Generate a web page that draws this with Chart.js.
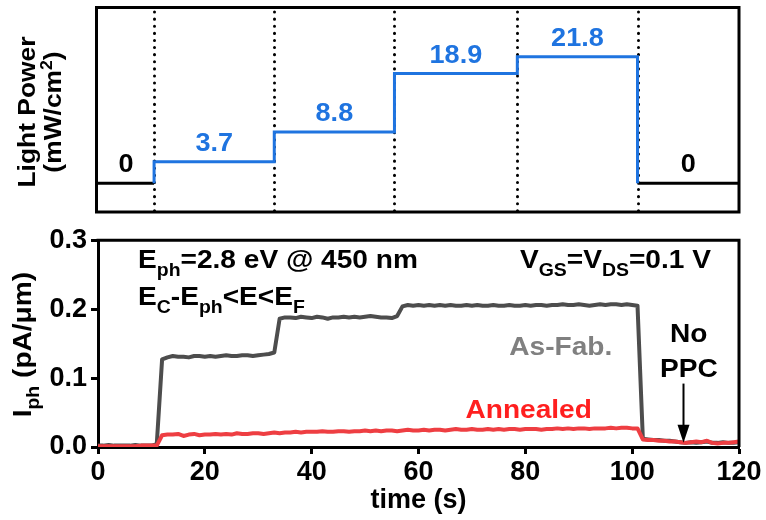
<!DOCTYPE html>
<html><head><meta charset="utf-8">
<script src="https://cdn.jsdelivr.net/npm/chart.js@4.4.1/dist/chart.umd.min.js"></script>
<style>
html,body{margin:0;padding:0;background:#fff;width:766px;height:520px;overflow:hidden}
#top{position:absolute;left:0;top:0}
#bot{position:absolute;left:0;top:220px}
</style></head><body>
<canvas id="top" width="766" height="220"></canvas>
<canvas id="bot" width="766" height="300"></canvas>
<script>
// ---- data ----
const time = [0,1,2,3,4,5,6,7,8,9,10,11,12,13,14,15,16,17,18,19,20,21,22,23,24,25,26,27,28,29,30,31,32,33,34,35,36,37,38,39,40,41,42,43,44,45,46,47,48,49,50,51,52,53,54,55,56,57,58,59,60,61,62,63,64,65,66,67,68,69,70,71,72,73,74,75,76,77,78,79,80,81,82,83,84,85,86,87,88,89,90,91,92,93,94,95,96,97,98,99,100,101,102,103,104,105,106,107,108,109,110,111,112,113,114,115,116,117,118,119,120];
const asFab = [0.002,0.002,0.003,0.002,0.002,0.002,0.002,0.003,0.002,0.002,0.002,
  0.004,
  0.127,0.130,0.132,0.131,0.131,0.130,0.132,0.132,0.131,
  0.132,0.131,0.132,0.133,0.132,0.132,0.133,0.133,0.132,0.133,
  0.134,0.135,0.137,0.186,0.188,0.188,0.187,0.189,0.188,0.187,
  0.189,0.188,0.186,0.188,0.188,0.189,0.188,0.189,0.188,0.189,
  0.190,0.189,0.188,0.188,0.187,0.190,0.204,0.206,0.205,0.206,
  0.205,0.206,0.205,0.206,0.205,0.206,0.205,0.205,0.206,0.205,
  0.206,0.205,0.205,0.206,0.205,0.205,0.206,0.205,0.205,0.206,
  0.205,0.206,0.206,0.205,0.206,0.206,0.207,0.206,0.206,0.207,
  0.206,0.205,0.206,0.207,0.206,0.207,0.207,0.206,0.207,0.206,
  0.205,0.012,0.011,0.010,0.010,0.009,0.009,0.008,0.007,0.006,
  0.007,0.006,0.007,0.008,0.006,0.006,0.007,0.006,0.006,0.007];
const annealed = [0.001,0.001,0.001,0.001,0.001,0.001,0.001,0.001,0.002,0.002,0.002,
  0.002,
  0.017,0.018,0.018,0.019,0.016,0.018,0.019,0.017,0.018,
  0.018,0.019,0.018,0.019,0.018,0.020,0.019,0.019,0.020,0.020,
  0.019,0.020,0.021,0.020,0.021,0.021,0.022,0.021,0.022,0.022,
  0.022,0.023,0.022,0.022,0.023,0.023,0.022,0.023,0.023,0.024,
  0.023,0.024,0.023,0.024,0.024,0.023,0.024,0.025,0.024,0.024,
  0.025,0.024,0.025,0.025,0.024,0.025,0.026,0.025,0.025,0.026,
  0.025,0.025,0.026,0.025,0.026,0.025,0.026,0.026,0.025,0.026,
  0.026,0.026,0.025,0.026,0.026,0.027,0.026,0.027,0.026,0.027,
  0.027,0.026,0.027,0.027,0.027,0.028,0.027,0.028,0.028,0.027,
  0.027,0.011,0.010,0.010,0.009,0.009,0.008,0.008,0.007,0.006,
  0.007,0.008,0.007,0.009,0.006,0.005,0.006,0.006,0.007,0.008];
const switchTimes = [10.5, 33, 55.5, 78.5, 101];   // light on / level changes / off (s)
const powerLevels = [3.7, 8.8, 18.9, 21.8];          // mW/cm^2
const powerLabels = ['0', '3.7', '8.8', '18.9', '21.8', '0'];
const xTicks = [0, 20, 40, 60, 80, 100, 120];
const yTicks = [0.0, 0.1, 0.2, 0.3];
const noPPCTime = 109.5;

// ---- helpers ----
const FAM = '"Liberation Sans", Arial, Helvetica, sans-serif';
const BLUE = '#1f74e0';
function drawRich(ctx, x, y, parts, size, color, align, stretch) {
  stretch = stretch || 1;
  ctx.save();
  ctx.translate(x, y);
  ctx.scale(stretch, 1);
  ctx.fillStyle = color;
  ctx.textBaseline = 'alphabetic';
  ctx.textAlign = 'left';
  const fonts = parts.map(p => 'bold ' + (p[1] ? Math.round(size * 0.68) : size) + 'px ' + FAM);
  const widths = parts.map((p, i) => { ctx.font = fonts[i]; return ctx.measureText(p[0]).width; });
  const w = widths.reduce((a, b) => a + b, 0);
  let sx = align === 'center' ? -w / 2 : (align === 'right' ? -w : 0);
  parts.forEach((p, i) => {
    ctx.font = fonts[i];
    const dy = p[1] === 1 ? size * 0.3 : (p[1] === 2 ? -size * 0.38 : 0);
    ctx.fillText(p[0], sx, dy);
    sx += widths[i];
  });
  ctx.restore();
}

// ---- top panel (light power) ----
const periodBounds = [time[0]].concat(switchTimes, [time[time.length - 1]]);
const periodLevels = [0].concat(powerLevels, [0]);
const blueSteps = [{x: switchTimes[0], y: 0}];
powerLevels.forEach((p, i) => blueSteps.push({x: switchTimes[i], y: p}));
blueSteps.push({x: switchTimes[switchTimes.length - 1], y: 0});

const topPlugin = {
  id: 'topDeco',
  beforeDatasetsDraw(chart) {
    const ctx = chart.ctx, xs = chart.scales.x, ca = chart.chartArea;
    ctx.save();
    ctx.strokeStyle = '#000';
    ctx.lineWidth = 3;
    ctx.lineCap = 'round';
    ctx.setLineDash([0.1, 7]);
    switchTimes.forEach(t => {
      const px = Math.round(xs.getPixelForValue(t)) + 0.5;
      ctx.beginPath(); ctx.moveTo(px, ca.top + 4); ctx.lineTo(px, ca.bottom); ctx.stroke();
    });
    ctx.restore();
  },
  afterDraw(chart) {
    const ctx = chart.ctx, xs = chart.scales.x, ys = chart.scales.y, ca = chart.chartArea;
    ctx.save();
    ctx.strokeStyle = '#000'; ctx.lineWidth = 3;
    ctx.strokeRect(ca.left - 1.5, ca.top - 0.5, ca.right - ca.left + 1.5, ca.bottom - ca.top + 1.5);
    ctx.restore();
    for (let i = 0; i < powerLabels.length; i++) {
      const mid = (periodBounds[i] + periodBounds[i + 1]) / 2;
      const py = ys.getPixelForValue(periodLevels[i]) - 11;
      drawRich(ctx, xs.getPixelForValue(mid), py, [[powerLabels[i], 0]], 26,
        periodLevels[i] === 0 ? '#000' : BLUE, 'center', 1.04);
    }
    ctx.save();
    ctx.translate(28, 112); ctx.rotate(-Math.PI / 2);
    drawRich(ctx, 0, 7, [['Light Power', 0]], 24, '#000', 'center', 1.1);
    drawRich(ctx, 0, 33, [['(mW/cm', 0], ['2', 2], [')', 0]], 24, '#000', 'center', 1.1);
    ctx.restore();
  }
};

new Chart(document.getElementById('top'), {
  type: 'line',
  data: {
    datasets: [
      {data: blueSteps, stepped: 'before', borderColor: BLUE, borderWidth: 3, pointRadius: 0},
      {data: [{x: periodBounds[0], y: 0}, {x: switchTimes[0], y: 0}], borderColor: '#000', borderWidth: 3, pointRadius: 0},
      {data: [{x: switchTimes[switchTimes.length - 1], y: 0}, {x: periodBounds[periodBounds.length - 1], y: 0}], borderColor: '#000', borderWidth: 3, pointRadius: 0}
    ]
  },
  options: {
    responsive: false, animation: false, devicePixelRatio: 1,
    layout: {padding: {left: 98, right: 27, top: 8, bottom: 9}},
    plugins: {legend: {display: false}, tooltip: {enabled: false}},
    scales: {
      x: {type: 'linear', min: 0, max: 120, display: false},
      y: {min: -4.8, max: 30.2, display: false}
    }
  },
  plugins: [topPlugin]
});

// ---- bottom panel (photocurrent) ----
const tickFont = {family: FAM, weight: 'bold', size: 27};
const botPlugin = {
  id: 'botDeco',
  afterDraw(chart) {
    const ctx = chart.ctx, xs = chart.scales.x, ys = chart.scales.y, ca = chart.chartArea;
    ctx.save();
    ctx.strokeStyle = '#000'; ctx.lineWidth = 3;
    ctx.beginPath();
    ctx.moveTo(ca.left - 1.5, ca.top); ctx.lineTo(ca.right, ca.top); ctx.lineTo(ca.right, ca.bottom);
    ctx.stroke();
    ctx.restore();
    const X = v => xs.getPixelForValue(v), Y = v => ys.getPixelForValue(v);
    const st = 1.08;
    drawRich(ctx, X(7.5), Y(0.259), [['E', 0], ['ph', 1], ['=2.8 eV @ 450 nm', 0]], 26, '#000', 'left', st);
    drawRich(ctx, X(7.5), Y(0.206), [['E', 0], ['C', 1], ['-E', 0], ['ph', 1], ['<E<E', 0], ['F', 1]], 26, '#000', 'left', st);
    drawRich(ctx, X(79.0), Y(0.259), [['V', 0], ['GS', 1], ['=V', 0], ['DS', 1], ['=0.1 V', 0]], 26, '#000', 'left', st);
    drawRich(ctx, X(77), Y(0.134), [['As-Fab.', 0]], 26, '#808080', 'left', st);
    drawRich(ctx, X(68.8), Y(0.042), [['Annealed', 0]], 26, '#ff1f1f', 'left', st);
    drawRich(ctx, X(110.6), Y(0.153), [['No', 0]], 26, '#000', 'center', st);
    drawRich(ctx, X(110.6), Y(0.102), [['PPC', 0]], 26, '#000', 'center', st);
    // arrow
    const ax = Math.round(X(noPPCTime)) + 0.5, y1 = Y(0.092), y2 = Y(0.006);
    ctx.save();
    ctx.strokeStyle = '#000'; ctx.fillStyle = '#000'; ctx.lineWidth = 2;
    ctx.beginPath(); ctx.moveTo(ax, y1); ctx.lineTo(ax, y2 - 14); ctx.stroke();
    ctx.beginPath(); ctx.moveTo(ax - 6, y2 - 18); ctx.lineTo(ax + 6, y2 - 18); ctx.lineTo(ax, y2); ctx.closePath(); ctx.fill();
    ctx.restore();
    // y-axis title
    ctx.save();
    ctx.translate(31, (ca.top + ca.bottom) / 2 + 1); ctx.rotate(-Math.PI / 2);
    drawRich(ctx, 0, 0, [['I', 0], ['ph', 1], [' (pA/\u03bcm)', 0]], 26, '#000', 'center', 1.08);
    ctx.restore();
  }
};

new Chart(document.getElementById('bot'), {
  type: 'line',
  data: {
    datasets: [
      {label: 'Annealed', data: annealed.map((v, i) => ({x: time[i], y: v})), borderColor: '#ee3e42', borderWidth: 4, pointRadius: 0, tension: 0, borderJoinStyle: 'round'},
      {label: 'As-Fab.', data: asFab.map((v, i) => ({x: time[i], y: v})), borderColor: '#4d4d4d', borderWidth: 4, pointRadius: 0, tension: 0, borderJoinStyle: 'round'}
    ]
  },
  options: {
    responsive: false, animation: false, devicePixelRatio: 1,
    layout: {padding: {left: 0, right: 27, top: 13, bottom: 0}},
    plugins: {legend: {display: false}, tooltip: {enabled: false}},
    scales: {
      x: {
        type: 'linear', min: 0, max: 120,
        afterBuildTicks: s => { s.ticks = xTicks.map(v => ({value: v})); },
        afterFit: s => { s.height = 73; },
        ticks: {font: tickFont, color: '#000', padding: 2, maxRotation: 0, autoSkip: false},
        grid: {drawOnChartArea: false, drawTicks: true, tickLength: 7, tickWidth: 3, tickColor: '#000'},
        border: {color: '#000', width: 3},
        title: {display: true, text: 'time (s)', color: '#000', font: {family: FAM, weight: 'bold', size: 27}, padding: {top: 0, bottom: 3}}
      },
      y: {
        min: 0, max: 0.3,
        afterBuildTicks: s => { s.ticks = yTicks.map(v => ({value: v})); },
        afterFit: s => { s.width = 98; },
        ticks: {font: tickFont, color: '#000', padding: 4, callback: v => Number(v).toFixed(1)},
        grid: {drawOnChartArea: false, drawTicks: true, tickLength: 7, tickWidth: 3, tickColor: '#000'},
        border: {color: '#000', width: 3}
      }
    }
  },
  plugins: [botPlugin]
});
</script>
</body></html>
